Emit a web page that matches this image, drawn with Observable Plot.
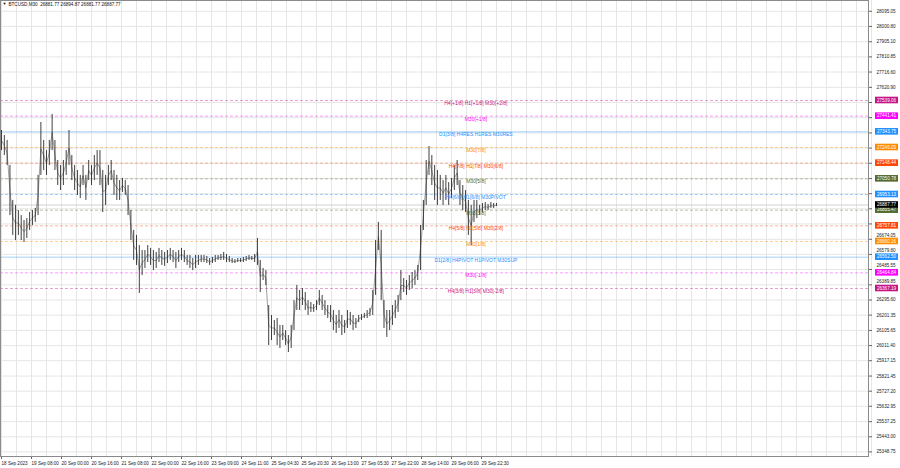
<!DOCTYPE html>
<html><head><meta charset="utf-8">
<script src="https://cdn.jsdelivr.net/npm/d3@7"></script>
<script src="https://cdn.jsdelivr.net/npm/@observablehq/plot@0.6"></script>
<style>
html,body{margin:0;padding:0;background:#fff;overflow:hidden;}
</style></head><body><div id="chart"></div>
<script>
// ---- data ----
const symbolTitle = "BTCUSD,M30  26881.77 26894.87 26881.77 26887.77";
const barStep = 3; // each sample covers 3 M30 bars
const highs = [
27352,27321,27290,27134,26916,26885,26853,26822,26791,26803,
26841,26853,26866,27072,27402,27290,27227,27290,27452,27290,
27165,27134,27165,27227,27352,27196,27134,27103,27072,27134,
27072,27165,27134,27196,27227,27227,27103,27072,27134,27165,
27103,27072,27040,27053,27040,27009,26853,26729,26698,26635,
26604,26604,26635,26617,26604,26592,26617,26604,26592,26604,
26617,26604,26592,26604,26617,26604,26573,26573,26554,26573,
26573,26573,26573,26567,26554,26561,26573,26573,26579,26592,
26579,26567,26554,26548,26554,26554,26561,26567,26573,26567,
26579,26679,26542,26492,26479,26261,26199,26168,26180,26137,
26137,26105,26074,26137,26292,26386,26355,26367,26342,26292,
26280,26267,26292,26355,26324,26292,26261,26261,26230,26199,
26230,26199,26168,26230,26218,26199,26180,26199,26205,26212,
26230,26243,26355,26666,26779,26729,26292,26230,26230,26261,
26292,26324,26479,26429,26417,26448,26467,26479,26511,26760,
26916,27165,27252,27196,27134,27103,27072,27040,27072,27027,
27053,27134,27165,27040,27009,26978,26916,26885,26916,26916,
26885,26897,26903,26891,26903,26897,26897];
const lows = [
27227,27196,27134,26822,26698,26666,26698,26666,26654,26679,
26729,26760,26779,26822,27072,27103,27072,27134,27227,27103,
27009,26978,27009,27072,27134,27040,26978,26947,26928,27009,
26916,27040,27009,27040,27072,27009,26841,26885,27009,27040,
26947,26916,26916,26966,26947,26822,26666,26542,26511,26336,
26448,26492,26529,26511,26479,26492,26529,26511,26505,26523,
26542,26529,26492,26529,26542,26529,26511,26492,26479,26492,
26511,26529,26529,26523,26511,26523,26529,26542,26542,26542,
26529,26529,26523,26523,26529,26529,26529,26536,26542,26542,
26529,26511,26342,26417,26386,26012,26043,26074,26012,25993,
26043,26012,25968,25993,26105,26230,26230,26261,26230,26199,
26218,26218,26230,26261,26230,26199,26180,26155,26105,26087,
26118,26074,26087,26118,26137,26105,26118,26155,26168,26180,
26180,26193,26199,26324,26604,26292,26118,26062,26105,26137,
26180,26218,26292,26342,26324,26355,26367,26386,26417,26479,
26729,26885,27072,27009,26916,26885,26916,26885,26916,26885,
26928,26978,27009,26885,26853,26841,26698,26635,26779,26803,
26822,26841,26853,26853,26866,26866,26878];
const timeLabels = ["18 Sep 2023","19 Sep 08:00","20 Sep 00:00","20 Sep 16:00","21 Sep 08:00",
"22 Sep 00:00","22 Sep 16:00","23 Sep 09:00","24 Sep 11:00","25 Sep 04:30","25 Sep 20:30",
"26 Sep 13:00","27 Sep 05:30","27 Sep 22:00","28 Sep 14:00","29 Sep 06:00","29 Sep 22:30"];
const barsPerLabel = 32;
const priceTicks = [28095.05,28000.80,27905.10,27810.85,27716.60,27620.90,27526.65,27432.40,
27336.70,27242.45,27148.20,27052.50,26958.25,26864.00,26769.70,26674.05,26579.80,26485.55,
26389.85,26295.60,26201.35,26105.65,26011.40,25917.15,25821.45,25727.20,25632.95,25537.25,
25443.00,25348.75];
// tick labels fully visible
const priceTickLabels = [28095.05,28000.80,27905.10,27810.85,27716.60,27620.90,26295.60,26201.35,
26105.65,26011.40,25917.15,25821.45,25727.20,25632.95,25537.25,25443.00,25348.75];
// tick labels peeking out just above a level box
const priceTickLabelsAbove = [26674.05,26579.80,26485.55,26389.85];
const levelValues = [27539.06,27441.41,27343.75,27246.09,27148.44,27050.78,26953.13,26855.47,
26757.81,26660.16,26562.50,26464.84,26367.19];
const levelNames = ["H4[+1/8] H1[+1/8] M30[+2/8]","M30[+1/8]","D1[3/8] H4RES H1RES M30RES",
"M30[7/8]","H4[7/8] H1[7/8] M30[6/8]","M30[5/8]","H4[6/8] H1[6/8] M30PIVOT","M30[3/8]",
"H4[5/8] H1[5/8] M30[2/8]","M30[1/8]","D1[2/8] H4PIVOT H1PIVOT M30SUP","M30[-1/8]",
"H4[3/8] H1[3/8] M30[-2/8]"];
const levelColors = ["#c71585","#ff00ff","#1e90ff","#ff8c00","#ff4500","#556b2f","#1e90ff",
"#556b2f","#ff4500","#ff8c00","#1e90ff","#ff00ff","#c71585"];
const levelSolid = [false,false,true,false,false,false,false,false,false,false,true,false,false];
const lastPrice = 26887.77;
const labelAnchorBar = 506;

// ---- tables ----
const bars = highs.map((h, i) => ({bar: i * barStep, hi: h, lo: lows[i], mid: (h + lows[i]) / 2}));
const levels = levelValues.map((v, i) => ({v, name: levelNames[i], color: levelColors[i], solid: levelSolid[i]}));
const boxes = levels.map(d => ({v: d.v, color: d.color})).concat([{v: lastPrice, color: "#000"}]);
const xTicks = timeLabels.map((_, i) => i * barsPerLabel);
const gridBars = d3.range(0, 930, barsPerLabel / 2);

const boxMark = (index, scales, values, dim) => {
  const g = d3.create("svg:g");
  const x0 = dim.width - dim.marginRight + 7;
  for (const b of boxes) {
    const y = scales.y(b.v);
    g.append("rect").attr("x", x0).attr("y", y - 3.3).attr("width", 23).attr("height", 6.6).attr("fill", b.color);
    g.append("text").attr("x", x0 + 11.5).attr("y", y).attr("dy", "0.35em")
      .attr("text-anchor", "middle").attr("fill", "#fff").attr("font-size", 4.6)
      .text(b.v.toFixed(2));
  }
  return g.node();
};

const chart = Plot.plot({
  width: 900, height: 468,
  marginLeft: 0, marginRight: 32, marginTop: 0, marginBottom: 12,
  style: {fontFamily: "'Liberation Sans', Arial, sans-serif", fontSize: "4.6px", background: "#fff", overflow: "visible", color: "#222"},
  x: {domain: [-1.0667, 924.8]},
  y: {domain: [25320, 28162.4]},
  marks: [
    Plot.gridX(gridBars, {stroke: "#e6e6e6", strokeOpacity: 1}),
    Plot.gridY(priceTicks, {stroke: "#e6e6e6", strokeOpacity: 1}),
    Plot.ruleY(levels.filter(d => d.solid), {y: "v", stroke: "color", strokeOpacity: 0.4, strokeWidth: 1}),
    Plot.ruleY(levels.filter(d => !d.solid), {y: "v", stroke: "color", strokeOpacity: 0.4, strokeWidth: 1, strokeDasharray: "3,2"}),
    Plot.ruleY([lastPrice], {stroke: "#d2d2d2", strokeWidth: 1}),
    Plot.line(bars, {x: "bar", y: "mid", stroke: "#777", strokeWidth: 0.7}),
    Plot.ruleX(bars, {x: "bar", y1: "lo", y2: "hi", stroke: "#2a2a2a", strokeWidth: 0.9}),
    Plot.text(levels, {x: () => labelAnchorBar, y: "v", text: "name", fill: "color", dy: 3, fontSize: 5}),
    Plot.axisX({ticks: xTicks, tickFormat: d => timeLabels[Math.round(d / barsPerLabel)], tickSize: 3, tickPadding: 2, textAnchor: "start", fontSize: 4.6, label: null, stroke: "#666"}),
    Plot.axisY({anchor: "right", ticks: priceTicks, tickFormat: () => "", tickSize: 3, label: null, stroke: "#666"}),
    Plot.axisY({anchor: "right", ticks: priceTickLabels, tickFormat: d => d.toFixed(2), tickSize: 0, tickPadding: 8, fontSize: 4.6, label: null}),
    Plot.axisY({anchor: "right", ticks: priceTickLabelsAbove, tickFormat: d => d.toFixed(2), tickSize: 0, tickPadding: 8, fontSize: 4.6, dy: -3.6, label: null}),
    Plot.frame({stroke: "#8a8a8a"}),
    boxMark,
    Plot.text([symbolTitle], {frameAnchor: "top-left", dx: 8, dy: 2, lineAnchor: "top", text: d => d, fontSize: 4.6, fill: "#111"}),
    Plot.text(["▼"], {frameAnchor: "top-left", dx: 2, dy: 2, lineAnchor: "top", text: d => d, fontSize: 4, fill: "#111"})
  ]
});
document.getElementById("chart").appendChild(chart);
</script></body></html>
